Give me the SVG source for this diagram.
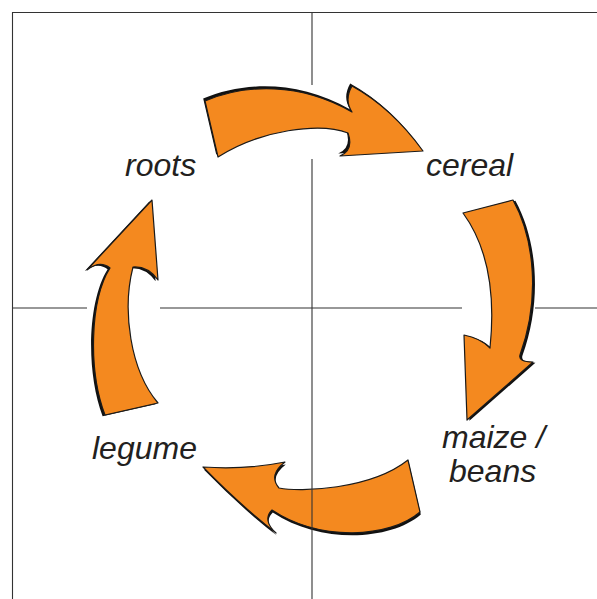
<svg xmlns="http://www.w3.org/2000/svg" width="597" height="599" viewBox="0 0 597 599">
<style>
.grid{stroke:#333;stroke-width:1.1;fill:none}
.lbl{font-family:"Liberation Sans",Arial,sans-serif;font-style:italic;font-size:32px;fill:#231F20}
.shadow{fill:#111}
.arrow{fill:#F4891F;stroke:#1a1a1a;stroke-width:1.2;stroke-linejoin:round}
</style>
<defs>
<path id="aTop" d="M205,101 C245,84 300,82 352,112 Q344,100 352,86 Q392,108 423,151 L340,156 Q354,150 348,133 C320,122 260,130 218,157 Z"/>
<path id="aRight" d="M463,213 L513,200 C535,240 540,300 520,355 Q518,362 533,362 L467,420 L464,335 Q480,338 490,348 C495,300 490,250 463,213 Z"/>
<path id="aBottom" d="M408,460 L420,512 C390,538 320,542 272,510 Q262,520 276,533 Q240,505 203,467 Q245,470 285,462 Q268,475 279,488 C300,492 370,490 408,460 Z"/>
<path id="aLeft" d="M105,415 L158,403 C130,370 122,310 133,267 Q148,266 158,280 L152,200 L87,270 Q100,260 110,268 C90,300 88,370 105,415 Z"/>
</defs>
<rect width="597" height="599" fill="#fff"/>
<g id="connectors">
<g id="arrow-roots-cereal">
<use href="#aTop" class="shadow" transform="translate(-1.8,-2.4)"/>
<use href="#aTop" class="arrow"/>
</g>
<g id="arrow-cereal-maize">
<use href="#aRight" class="shadow" transform="translate(2.4,0.8)"/>
<use href="#aRight" class="arrow"/>
</g>
<g id="arrow-maize-legume">
<use href="#aBottom" class="shadow" transform="translate(0.8,2.6)"/>
<use href="#aBottom" class="arrow"/>
</g>
<g id="arrow-legume-roots">
<use href="#aLeft" class="shadow" transform="translate(-2.4,1.2)"/>
<use href="#aLeft" class="arrow"/>
</g>
</g>
<g id="grid">
<path class="grid" d="M12.5,599 V12.5 H597"/>
<path class="grid" d="M312,12.5 V85 M312,159 V599"/>
<path class="grid" d="M12.5,308 H87 M160,308 H462 M535,308 H597"/>
</g>
<g id="node-roots"><text class="lbl" x="125" y="176">roots</text></g>
<g id="node-cereal"><text class="lbl" x="426" y="176">cereal</text></g>
<g id="node-maize-beans"><text class="lbl" x="442" y="448">maize /</text><text class="lbl" x="449" y="482">beans</text></g>
<g id="node-legume"><text class="lbl" x="92" y="459">legume</text></g>
</svg>
